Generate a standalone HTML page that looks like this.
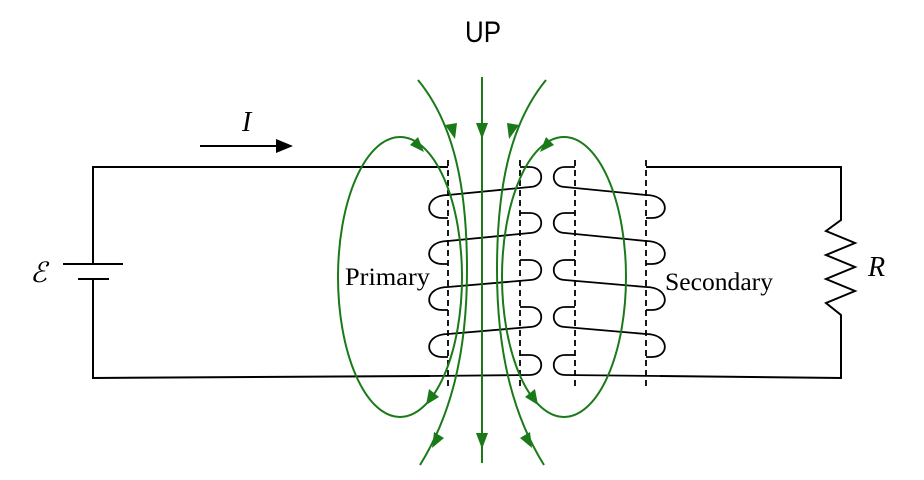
<!DOCTYPE html>
<html><head><style>html,body{margin:0;padding:0;background:#fff}svg{display:block}</style></head>
<body>
<svg width="924" height="480" viewBox="0 0 924 480" xmlns="http://www.w3.org/2000/svg">
<text x="465" y="42" font-family="Liberation Sans, sans-serif" font-size="30" textLength="36" lengthAdjust="spacingAndGlyphs">UP</text>
<g stroke="#000" stroke-width="2" fill="none">
<path d="M448,167 H93 V264 M93,279 V378 L430,376"/>
<line x1="63" y1="264" x2="123" y2="264"/>
<line x1="78" y1="279" x2="109" y2="279"/>
<path d="M646,167 H841 V220 L826,231 L855,243 L826,255 L855,267 L826,279 L855,291 L826,303 L841,315 V378 L660,376"/>
<line x1="200" y1="146" x2="278" y2="146"/>
</g>
<path d="M276,139 L293,146 L276,153 Z" fill="#000"/>
<g stroke="#000" stroke-width="1.8" stroke-dasharray="6,4" fill="none">
<line x1="448" y1="160" x2="448" y2="390"/>
<line x1="520" y1="160" x2="520" y2="390"/>
<line x1="575" y1="160" x2="575" y2="390"/>
<line x1="646" y1="160" x2="646" y2="390"/>
</g>
<g stroke="#000" stroke-width="1.8" fill="none">
<path d="M520,167 H530 C545,167 545,187 530,187 L448,195"/>
<path d="M448,195 C424,195 424,218 442,218 H448"/>
<path d="M520,213 H530 C545,213 545,233 530,233 L448,241"/>
<path d="M448,241 C424,241 424,264 442,264 H448"/>
<path d="M520,260 H530 C545,260 545,280 530,280 L448,287"/>
<path d="M448,287 C424,287 424,310 442,310 H448"/>
<path d="M520,307 H530 C545,307 545,327 530,327 L448,334"/>
<path d="M448,334 C424,334 424,357 442,357 H448"/>
<path d="M520,355 H530 C545,355 545,375 530,375 L430,376"/>
<path d="M575,167 H565 C550,167 550,187 565,187 L646,195"/>
<path d="M646,195 C670,195 670,218 652,218 H646"/>
<path d="M575,213 H565 C550,213 550,233 565,233 L646,241"/>
<path d="M646,241 C670,241 670,264 652,264 H646"/>
<path d="M575,260 H565 C550,260 550,280 565,280 L646,287"/>
<path d="M646,287 C670,287 670,310 652,310 H646"/>
<path d="M575,307 H565 C550,307 550,327 565,327 L646,334"/>
<path d="M646,334 C670,334 670,357 652,357 H646"/>
<path d="M575,355 H565 C550,355 550,375 565,375 L660,376"/>
</g>
<g stroke="#1a7a1a" stroke-width="2" fill="none">
<path d="M482,77 V463"/>
<path d="M418,80 C455,125 467,190 467,270 C467,360 448,420 420,465"/>
<path d="M546,80 C509,125 497,190 497,270 C497,360 516,420 544,465"/>
<ellipse cx="400" cy="277" rx="62" ry="140"/>
<ellipse cx="564" cy="277" rx="62" ry="140"/>
</g>
<g fill="#1a7a1a">
<polygon points="476,123 488,123 482,139"/>
<polygon points="476,433 488,433 482,449"/>
<polygon points="445,125 457,123 455,139"/>
<polygon points="519,125 507,123 509,139"/>
<polygon points="444,438 434,432 432,448"/>
<polygon points="520,438 530,432 532,448"/>
<polygon points="418,137 410,145 424,152"/>
<polygon points="546,137 554,145 540,152"/>
<polygon points="439,397 429,389 426,405"/>
<polygon points="525,397 535,389 538,405"/>
</g>
<g font-family="Liberation Serif, serif" fill="#000">
<text x="345" y="285" font-size="25" textLength="85" lengthAdjust="spacingAndGlyphs">Primary</text>
<text x="665" y="290" font-size="25" textLength="108" lengthAdjust="spacingAndGlyphs">Secondary</text>
<text x="242" y="131" font-size="28" font-style="italic">I</text>
<text x="868" y="276" font-size="28" font-style="italic">R</text>
<text x="30" y="282" font-size="28" font-style="italic">ℰ</text>
</g>
</svg>
</body></html>
